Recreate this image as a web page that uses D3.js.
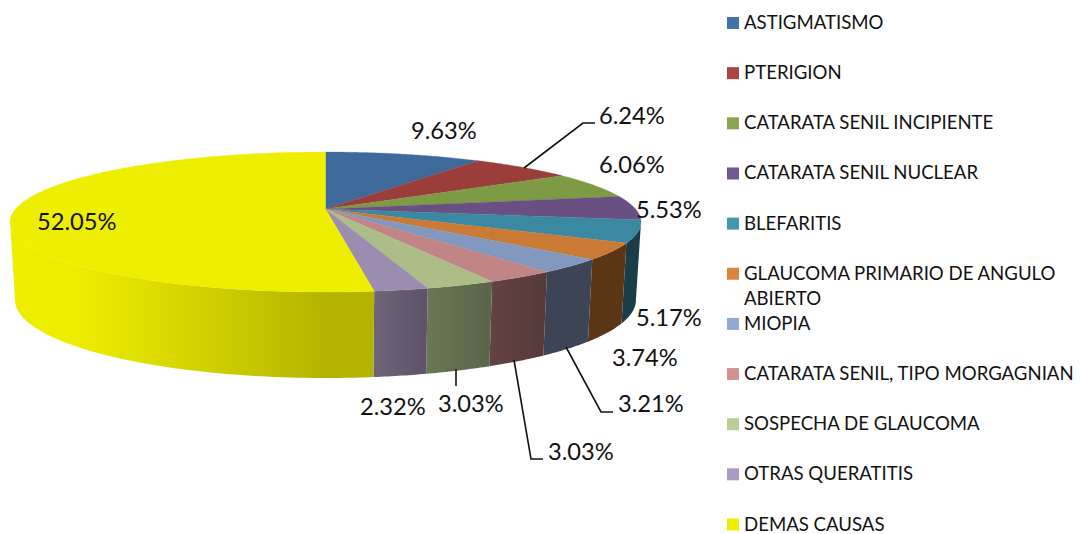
<!DOCTYPE html>
<html>
<head>
<meta charset="utf-8">
<script src="https://cdn.jsdelivr.net/npm/d3@7"></script>
<style>
  html, body { margin: 0; padding: 0; background: #fff; }
  svg { display: block; }
  text { font-family: Lato, "Open Sans", sans-serif; fill: #111; }
</style>
</head>
<body>
<div id="chart"></div>
<script>
// Chart values
const categories = ["ASTIGMATISMO", "PTERIGION", "CATARATA SENIL INCIPIENTE", "CATARATA SENIL NUCLEAR",
    "BLEFARITIS", "GLAUCOMA PRIMARIO DE ANGULO ABIERTO", "MIOPIA", "CATARATA SENIL, TIPO MORGAGNIAN",
    "SOSPECHA DE GLAUCOMA", "OTRAS QUERATITIS", "DEMAS CAUSAS"];
const percents = [9.63, 6.24, 6.06, 5.53, 5.17, 3.74, 3.21, 3.03, 3.03, 2.32, 52.05];

const legendColors = ["#4572A7", "#AA4643", "#89A54E", "#71588F", "#4198AF", "#DB843D", "#93A9CF", "#D19392", "#B9CD96", "#A99BBD", "#EEEE00"];
const topColors = ["#3E6A9B", "#9A3D3B", "#7D9B45", "#6A4F82", "#3A88A2", "#C97A35", "#8298BE", "#C08584", "#ACBD88", "#9C8CB0", "#EEEE00"];
// Side wall colours: [left end, right end] of each slice's shading
const sideColors = [["#2a3f5c", "#2a3f5c"], ["#5c2a28", "#5c2a28"], ["#4d5c2c", "#4d5c2c"], ["#3f3050", "#3f3050"],
    ["#1a3d4a", "#1a3d4a"], ["#5a3516", "#5a3516"], ["#3c4456", "#3c4456"], ["#644242", "#553a3a"],
    ["#6a7755", "#5b6448"], ["#706479", "#5e5268"], ["#EEEE00", "#B3B300"]];

const width = 1080, height = 534;

const svg = d3.select("#chart").append("svg")
    .attr("width", width)
    .attr("height", height);

// The tilted pie is a circle seen in perspective: u runs left-right, v runs far-near
const skew = -0.186;
const topRim = { cx: 325.5, cy: 209, rx: 310, ry: 67.6 };
const bottomRim = { cx: 325.5, cy: 285.5, rx: 305, ry: 75.3 };

function project(rim, angle, r) {
    var u = Math.sin(angle) * r;
    var v = -Math.cos(angle) * r;
    var d = 1 + skew * v;
    return [rim.cx + rim.rx * u / d, rim.cy + rim.ry * v / d];
}

function rimPoints(rim, a0, a1) {
    var n = Math.max(2, Math.ceil((a1 - a0) / 0.01));
    return d3.range(n + 1).map((i) => project(rim, a0 + (a1 - a0) * i / n, 1));
}

const pie = d3.pie().sort(null).value((d) => d)
    .startAngle(0).endAngle(2 * Math.PI);
const slices = pie(percents);
const line = d3.line();

// Only the part of the wall between the two widest points of the rim can be seen
const wallStart = Math.acos(skew);
const wallEnd = 2 * Math.PI - wallStart;

const defs = svg.append("defs");

slices.forEach((s, i) => {
    var a0 = Math.max(s.startAngle, wallStart);
    var a1 = Math.min(s.endAngle, wallEnd);
    if (a1 <= a0) return;

    var upper = rimPoints(topRim, a0, a1);
    var lower = rimPoints(bottomRim, a0, a1).reverse();
    var xs = upper.concat(lower).map((p) => p[0]);

    var grad = defs.append("linearGradient")
        .attr("id", "side" + i)
        .attr("gradientUnits", "userSpaceOnUse")
        .attr("x1", d3.min(xs)).attr("x2", d3.max(xs))
        .attr("y1", 0).attr("y2", 0);
    // Yellow wall stays bright at its far left and is fully dark before the right end
    var stops = i === 10 ? [[0, 0], [0.18, 0], [0.88, 1], [1, 1]] : [[0, 0], [1, 1]];
    stops.forEach((st) => {
        grad.append("stop")
            .attr("offset", st[0])
            .attr("stop-color", sideColors[i][st[1]]);
    });

    svg.append("path")
        .attr("d", line(upper.concat(lower)) + "Z")
        .attr("fill", "url(#side" + i + ")");
});

// Top face
svg.selectAll("path.top")
    .data(slices)
    .join("path")
    .attr("class", "top")
    .attr("fill", (d, i) => topColors[i])
    .attr("stroke", (d, i) => topColors[i])
    .attr("stroke-width", 0.3)
    .attr("d", (d) => line([[topRim.cx, topRim.cy]].concat(rimPoints(topRim, d.startAngle, d.endAngle))) + "Z");

// Leader lines
const leaders = [
    [[524, 168], [583, 123], [595, 123]],
    [[456, 369], [456, 386]],
    [[514, 360], [531, 459], [543, 459]],
    [[566, 347], [601, 412], [613, 412]]
];
svg.selectAll("path.leader")
    .data(leaders)
    .join("path")
    .attr("class", "leader")
    .attr("fill", "none")
    .attr("stroke", "#111")
    .attr("stroke-width", 1.6)
    .attr("d", (d) => line(d));

// Data labels, placed by hand as in the original (left edge, baseline)
const labelSpots = [[411, 139], [599, 124], [599, 173], [636, 218], [636, 326], [612, 366], [618, 412],
    [548, 460], [438, 412], [360, 415], [37, 230]];
svg.selectAll("text.pct")
    .data(percents)
    .join("text")
    .attr("class", "pct")
    .attr("x", (d, i) => labelSpots[i][0])
    .attr("y", (d, i) => labelSpots[i][1])
    .style("font-size", "23.7px")
    .text((d) => d.toFixed(2) + "%");

// Legend
const legendY = d3.scaleLinear().domain([0, categories.length - 1]).range([23, 524.5]);
const legend = svg.selectAll("g.legend")
    .data(categories)
    .join("g")
    .attr("class", "legend")
    .attr("transform", (d, i) => "translate(727," + legendY(i) + ")");

legend.append("rect")
    .attr("x", 0)
    .attr("y", -6)
    .attr("width", 12)
    .attr("height", 12)
    .attr("fill", (d, i) => legendColors[i]);

legend.append("text")
    .attr("x", 17)
    .attr("y", 6)
    .style("font-size", "18.6px")
    .each(function(d) {
        // Long names wrap on to a second line
        var el = d3.select(this), row = el.append("tspan").attr("x", 17);
        d.split(" ").forEach((word) => {
            var before = row.text();
            row.text(before ? before + " " + word : word);
            if (row.node().getComputedTextLength() > 335) {
                row.text(before);
                row = el.append("tspan").attr("x", 17).attr("dy", 25).text(word);
            }
        });
    });
</script>
</body>
</html>
